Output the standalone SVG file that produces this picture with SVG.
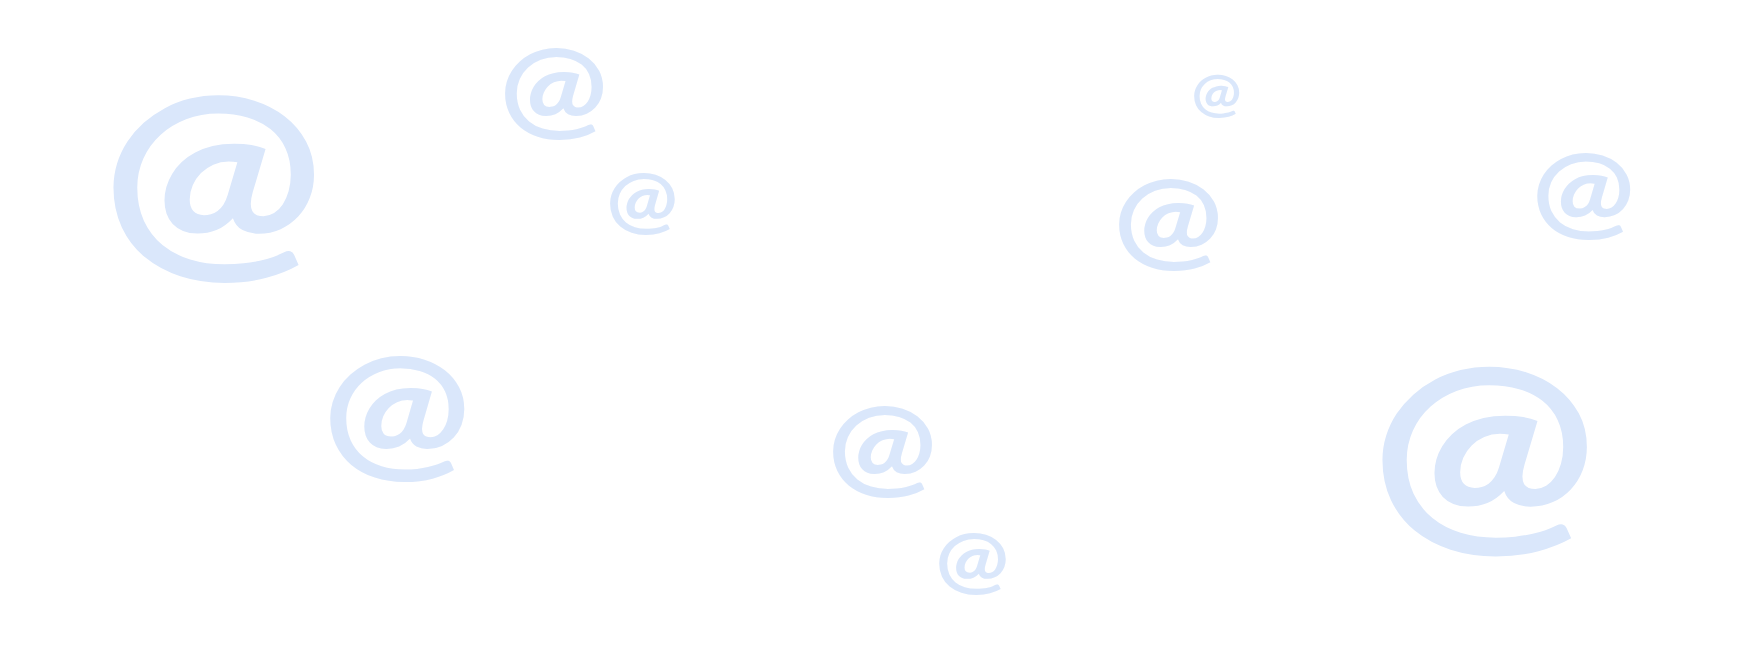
<svg xmlns="http://www.w3.org/2000/svg" width="1745" height="649" viewBox="0 0 1745 649">
<style>
.at{font-family:Lato,"Open Sans","Liberation Sans",sans-serif;font-weight:700;font-size:100px;fill:#dae7fb;text-anchor:middle;}
</style>
<rect width="1745" height="649" fill="#ffffff"/>
<g id="at1" transform="translate(212.9,255) scale(2.642,2.313)"><text class="at" x="0" y="0">@</text></g>
<g id="at2" transform="translate(553.7,125.5) scale(1.289,1.126)"><text class="at" x="0" y="0">@</text></g>
<g id="at3" transform="translate(642.2,226) scale(0.851,0.759)"><text class="at" x="0" y="0">@</text></g>
<g id="at4" transform="translate(1168.2,257.4) scale(1.302,1.138)"><text class="at" x="0" y="0">@</text></g>
<g id="at5" transform="translate(1216.4,111.7) scale(0.593,0.526)"><text class="at" x="0" y="0">@</text></g>
<g id="at6" transform="translate(1583.3,227.2) scale(1.224,1.065)"><text class="at" x="0" y="0">@</text></g>
<g id="at7" transform="translate(396.7,463.3) scale(1.765,1.554)"><text class="at" x="0" y="0">@</text></g>
<g id="at8" transform="translate(882.2,484.4) scale(1.302,1.138)"><text class="at" x="0" y="0">@</text></g>
<g id="at9" transform="translate(972.1,585.8) scale(0.876,0.771)"><text class="at" x="0" y="0">@</text></g>
<g id="at10" transform="translate(1483.8,528.2) scale(2.693,2.338)"><text class="at" x="0" y="0">@</text></g>
</svg>
